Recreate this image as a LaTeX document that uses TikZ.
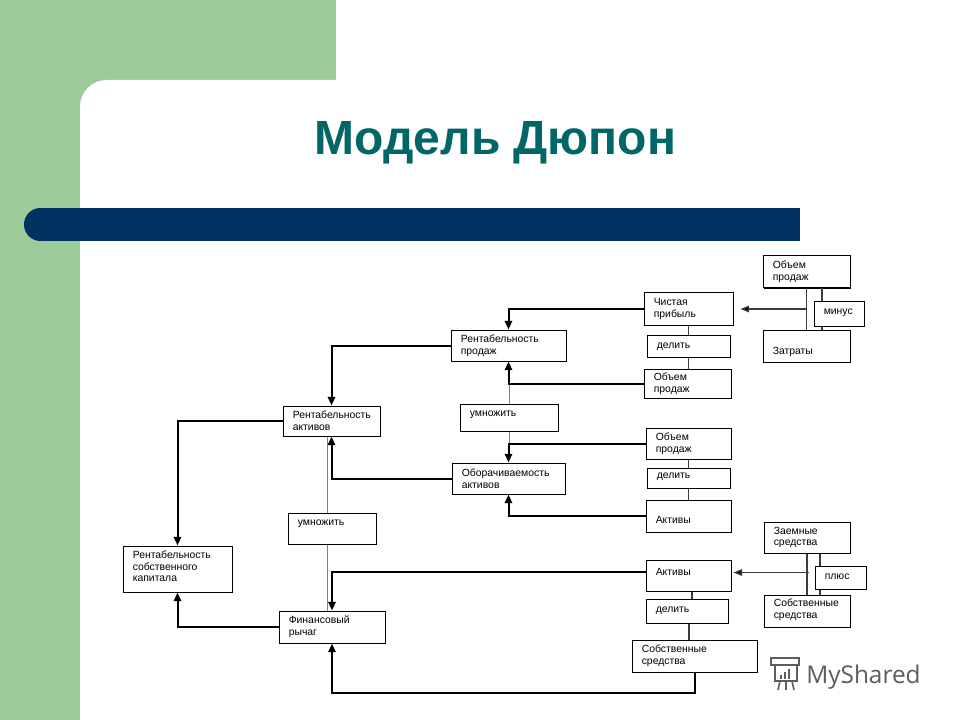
\documentclass[tikz,border=0pt]{standalone}
\usepackage{fontspec}
\setmainfont{Liberation Sans}
\newfontfamily\logofont{Open Sans}
\usetikzlibrary{arrows.meta,shadows}
\definecolor{bggreen}{RGB}{157,203,154}
\definecolor{barblue}{RGB}{0,51,98}
\definecolor{titleteal}{RGB}{0,102,102}
\definecolor{logogray}{RGB}{90,95,90}
\definecolor{linkgray}{RGB}{128,128,128}
\definecolor{darkline}{RGB}{60,60,60}
\newcommand\bxn[5]{%
  \pgfmathsetmacro\bxw{(#4-#2)*0.75}%
  \pgfmathsetmacro\bxh{(#5-#3)*0.75}%
  \node[bx, minimum width=\bxw pt, minimum height=\bxh pt] (#1) at ({(#2+#4)/2},{(#3+#5)/2}) {};%
}
\newcommand\bxt[3]{%
  \node[tx] (#1-t) at ([shift={(10,#2)}]#1.west) {#3};%
}
\begin{document}
\begin{tikzpicture}[x=0.75pt,y=-0.75pt,
  bx/.style={draw=black, line width=0.75pt, fill=white, inner sep=0pt,
     drop shadow={shadow xshift=0.75pt, shadow yshift=-0.75pt, fill=black, opacity=1}},
  tx/.style={anchor=west, inner sep=0pt, align=left, font=\fontsize{7.8}{8.8}\selectfont},
  flow/.style={line width=1.5pt, -{Triangle[length=6.5pt,width=5.5pt]}},
  glink/.style={draw=linkgray, line width=0.75pt},
  dlink/.style={draw=darkline, line width=0.9pt},
  darrow/.style={draw=darkline, line width=1pt, -{Triangle[length=6.5pt,width=5pt,fill=black]}}
]
\useasboundingbox (0,0) rectangle (960,720);
\clip (0,0) rectangle (960,720);
% background
\fill[white] (0,0) rectangle (960,720);
\fill[bggreen] (0,0) rectangle (336,720);
\fill[white, rounded corners=20pt] (80,80) rectangle (1000,800);
\fill[barblue] (40.5,208) rectangle (800,241);
\fill[barblue] (40.5,224.5) circle[radius=12.4pt];
% title
\node[font=\fontsize{36}{40}\selectfont\bfseries, text=titleteal, anchor=base, inner sep=0pt] (title) at (495.5,155) {Модель Дюпон};

% boxes
\bxn{ov1}{763}{256}{850}{288}
\bxn{minus}{814}{302}{864}{326}
\bxn{zat}{763}{330}{850}{362}
\bxn{np}{644}{293}{733}{325}
\bxn{del1}{647}{335}{730}{357}
\bxn{ov2}{644}{369}{731}{398}
\bxn{rp}{451}{330}{566}{361}
\bxn{mul1}{460}{404}{558}{431}
\bxn{ov3}{646}{428}{731}{459}
\bxn{ob}{452}{463}{565}{494}
\bxn{del2}{647}{468}{730}{488}
\bxn{akt1}{646}{500}{731}{532}
\bxn{ra}{283}{406}{380}{436}
\bxn{mul2}{288}{513}{376}{544}
\bxn{rsk}{123}{546}{232}{592}
\bxn{fr}{279}{611}{385}{643}
\bxn{akt2}{646}{560}{731}{591}
\bxn{zs}{764}{522}{850}{553}
\bxn{plus}{815}{566}{866}{589}
\bxn{ss1}{764}{595}{850}{627}
\bxn{del3}{646}{599}{728}{623}
\bxn{ss2}{632}{640}{757}{672}

% texts
\bxt{ov1}{0}{Объем\\продаж}
\bxt{minus}{-1}{минус}
\bxt{zat}{5.5}{Затраты}
\bxt{np}{0}{Чистая\\прибыль}
\bxt{del1}{0.5}{делить}
\bxt{ov2}{0}{Объем\\продаж}
\bxt{rp}{0}{Рентабельность\\продаж}
\bxt{mul1}{-2.5}{умножить}
\bxt{ov3}{0}{Объем\\продаж}
\bxt{ob}{0}{Оборачиваемость\\активов}
\bxt{del2}{-1}{делить}
\bxt{akt1}{4}{Активы}
\bxt{ra}{0}{Рентабельность\\активов}
\bxt{mul2}{-5}{умножить}
\bxt{rsk}{-2.5}{Рентабельность\\собственного\\капитала}
\bxt{fr}{0}{Финансовый\\рычаг}
\bxt{akt2}{-4}{Активы}
\bxt{zs}{0}{Заемные\\средства}
\bxt{plus}{-1}{плюс}
\bxt{ss1}{-1}{Собственные\\средства}
\bxt{del3}{0}{делить}
\bxt{ss2}{0}{Собственные\\средства}

% gray multiply links
\draw[glink] (mul1.north) -- (mul1.north |- ov2.west);
\draw[glink] (mul1.south) -- (mul1.south |- ov3.west);
\draw[glink] ([shift={(-5,0)}]mul2.north) -- ([shift={(-5,0)}]mul2.north |- ra.south);
\draw[glink] ([shift={(-5,0)}]mul2.south) -- ([shift={(-5,0)}]mul2.south |- fr.north);

% thick flows
\draw[flow] (np.west) -| (rp.north);
\draw[flow] (ov2.west) -| (rp.south);
\draw[flow] (rp.west) -| (ra.north);
\draw[flow] (ov3.west) -| (ob.north);
\draw[flow] (akt1.west) -| (ob.south);
\draw[flow] (ob.west) -| (ra.south);
\draw[flow] (ra.west) -| (rsk.north);
\draw[flow] (fr.west) -| (rsk.south);
\draw[flow] ([shift={(0,-3.5)}]akt2.west) -| (fr.north);
\draw[flow] (ss2.south) -- ++(0,20) -| (fr.south);

% thin divide links
\draw[dlink] (np.south) -- (del1.north);
\draw[dlink] (del1.south) -- (del1.south |- ov2.north);
\draw[dlink] (ov3.south) -- (del2.north);
\draw[dlink] (del2.south) -- (del2.south |- akt1.north);
\draw[dlink] ([shift={(3.5,0)}]akt2.south) -- ([shift={(3.5,0)}]akt2.south |- del3.north);
\draw[dlink] ([shift={(2,0)}]del3.south) -- ([shift={(2,0)}]del3.south |- ss2.north);

% minus group
\draw[dlink] (ov1.south) -- (zat.north);
\draw[dlink] ([shift={(15.5,0)}]ov1.south) -- ([shift={(15.5,0)}]ov1.south |- minus.north);
\draw[dlink] ([shift={(15.5,0)}]ov1.south |- minus.south) -- ([shift={(15.5,0)}]ov1.south |- zat.north);
\coordinate (m1) at (ov1.south |- np.west);
\draw[darrow] (m1) -- ([shift={(7,0)}]np.east);

% plus group
\draw[dlink] (zs.south) -- (ss1.north);
\draw[dlink] ([shift={(13,0)}]zs.south) -- ([shift={(13,0)}]zs.south |- plus.north);
\draw[dlink] ([shift={(13,0)}]zs.south |- plus.south) -- ([shift={(13,0)}]zs.south |- ss1.north);
\coordinate (p1) at ([shift={(2,-3)}]akt2.east -| zs.south);
\draw[darrow] (p1) -- ([shift={(2,-3)}]akt2.east);

% watermark logo
\begin{scope}[draw=logogray, line width=1.2pt]
  \draw (771,658) rectangle (799,665);
  \draw (775,665) rectangle (797,681);
  \fill[logogray] (780,675) rectangle (782,679);
  \fill[logogray] (784,672) rectangle (786,679);
  \fill[logogray] (788,669) rectangle (790,679);
  \draw (780,681) -- (778,690);
  \draw (786,681) -- (786,690);
  \draw (792,681) -- (794,690);
\end{scope}
\node[font=\logofont\fontsize{18.3}{21}\selectfont, text=logogray, anchor=base west, inner sep=0pt] (logo) at (806,683) {MyShared};
\end{tikzpicture}
\end{document}
